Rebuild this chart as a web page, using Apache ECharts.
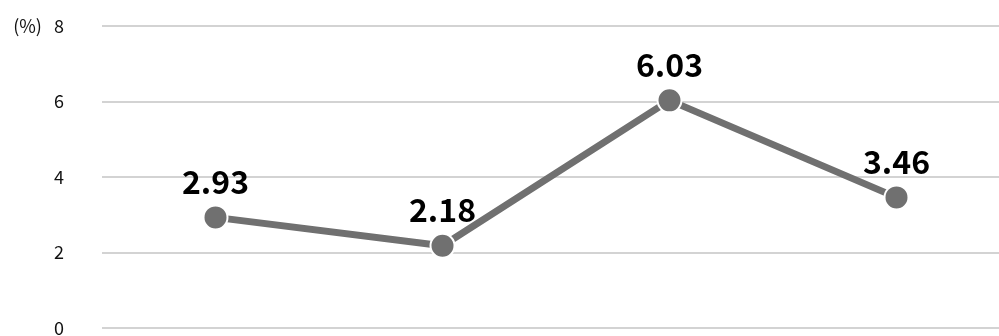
<!DOCTYPE html>
<html>
<head>
<meta charset="utf-8">
<script src="https://cdn.jsdelivr.net/npm/echarts@6/dist/echarts.min.js"></script>
<style>
  html, body { margin: 0; padding: 0; background: #fff; }
  #chart { width: 999px; height: 336px; }
</style>
</head>
<body>
<div id="chart"></div>
<script>
const categories = ['1', '2', '3', '4']
const rates = [2.93, 2.18, 6.03, 3.46]
const yTicks = { min: 0, max: 8, interval: 2 }

const chart = echarts.init(document.getElementById('chart'))
const option = {
  animation: false,
  textStyle: { fontFamily: 'Noto Sans CJK JP' },
  // plot area runs a bit past the right edge, like the original
  grid: { left: 102, top: 26, right: -11, bottom: 8, outerBoundsMode: 'none', containLabel: false },
  xAxis: {
    type: 'category',
    data: categories,
    boundaryGap: true,
    axisLine: { show: false },
    axisTick: { show: false },
    axisLabel: { show: false }
  },
  yAxis: {
    type: 'value',
    min: yTicks.min,
    max: yTicks.max,
    interval: yTicks.interval,
    axisLine: { show: false },
    axisTick: { show: false },
    axisLabel: {
      margin: 38,
      fontSize: 18,
      color: '#111',
      fontFamily: 'Noto Sans CJK JP',
      formatter: function (value) {
        return value === yTicks.max ? '(%)   ' + value : value
      }
    },
    splitLine: { lineStyle: { color: '#c4c4c4', width: 1.5 } }
  },
  series: [
    {
      type: 'line',
      data: rates,
      symbol: 'circle',
      symbolSize: 24,
      lineStyle: { color: '#707070', width: 7 },
      itemStyle: { color: '#707070', borderColor: '#fff', borderWidth: 2 },
      label: {
        show: true,
        position: 'top',
        distance: 7,
        fontSize: 32,
        fontWeight: 'bold',
        color: '#000',
        fontFamily: 'Noto Sans CJK JP',
        formatter: function (p) { return p.value.toFixed(2) }
      }
    }
  ]
}
chart.setOption(option)
</script>
</body>
</html>
